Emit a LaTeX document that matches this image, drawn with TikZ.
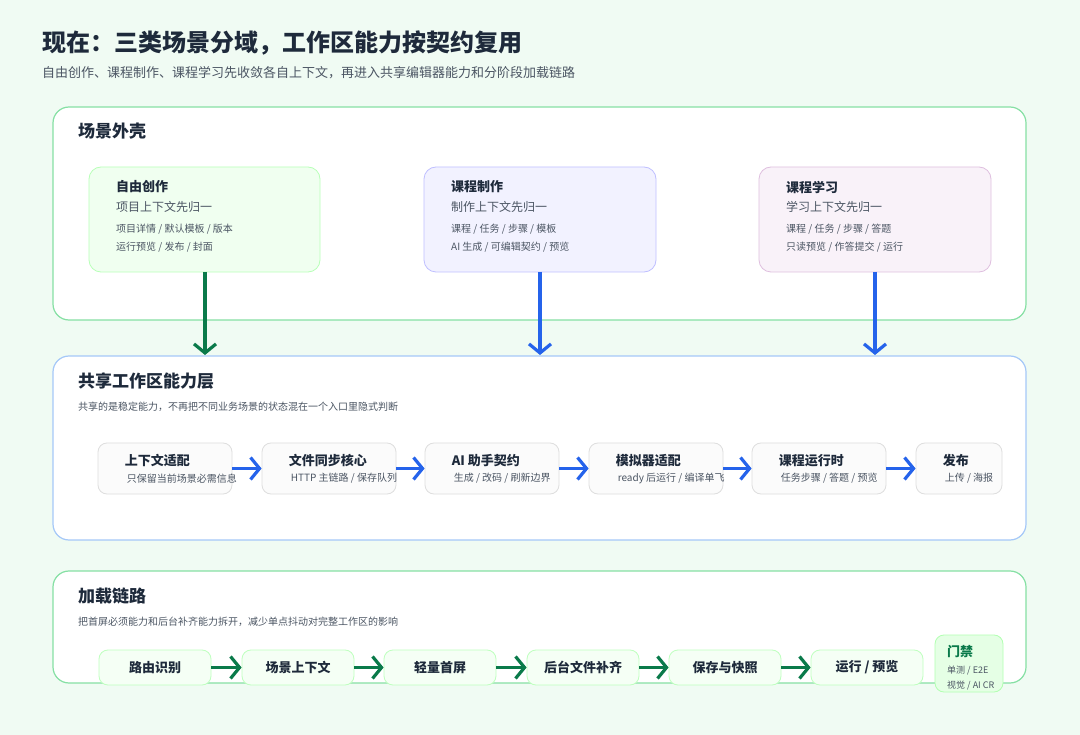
\documentclass[tikz,border=0pt]{standalone}
\usepackage{fontspec}
\setmainfont{Noto Sans CJK SC}
\usetikzlibrary{arrows.meta,positioning}
\definecolor{pagebg}{HTML}{F0FBF3}
\definecolor{ink}{HTML}{1E2A3B}
\definecolor{muted}{HTML}{4B5563}
\definecolor{gline}{HTML}{86E0A4}
\definecolor{bline}{HTML}{A5C8F8}
\definecolor{darkgreen}{HTML}{0A7A4A}
\definecolor{flowblue}{HTML}{2563EB}
\tikzset{
  panel/.style={draw=#1, fill=white, line width=1.2pt, rounded corners=16pt},
  card/.style 2 args={draw=#1, fill=#2, line width=0.8pt, rounded corners=12pt},
  panelhead/.style={anchor=west, font=\bfseries\fontsize{17}{20}\selectfont, text=ink, inner sep=0pt},
  note/.style={anchor=west, font=\fontsize{10}{12}\selectfont, text=muted, inner sep=0pt},
  cardtitle/.style={anchor=west, font=\bfseries\fontsize{13}{15}\selectfont, text=ink, inner sep=0pt},
  capbox/.style={draw=black!13, fill=black!1.5, line width=0.8pt, rounded corners=9pt,
    minimum width=134pt, minimum height=51pt, inner sep=0pt},
  loadbox/.style={draw=green!25, fill=green!4, line width=0.8pt, rounded corners=9pt,
    minimum width=112pt, minimum height=35pt, inner sep=0pt,
    font=\bfseries\fontsize{13}{15}\selectfont, text=ink},
  flow/.style={-{Straight Barb[length=9pt,width=22pt]}, line width=3.2pt, color=#1},
}
\begin{document}
\begin{tikzpicture}[x=1pt,y=-1pt]
\fill[pagebg] (0,0) rectangle (1080,735);
\useasboundingbox (0,0) rectangle (1080,735);

% title
\node[anchor=west, inner sep=0pt, text=ink, font=\bfseries\fontsize{24}{28}\selectfont] (title) at (42,43) {现在：三类场景分域，工作区能力按契约复用};
\node[anchor=west, inner sep=0pt, text=muted, font=\fontsize{13}{15}\selectfont] (subtitle) at (42,73) {自由创作、课程制作、课程学习先收敛各自上下文，再进入共享编辑器能力和分阶段加载链路};

% scene shell
\draw[panel=gline] (53,107) rectangle (1026,320);
\node[panelhead] (shell) at (78,131) {场景外壳};

\draw[card={green!28}{green!6}] (89,167) rectangle (320,272);
\node[cardtitle] (free) at (116,187) {自由创作};
\node[note, font=\fontsize{12}{14}\selectfont] at (116,207) {项目上下文先归一};
\node[note] at (116,229) {项目详情 / 默认模板 / 版本};
\node[note] at (116,247) {运行预览 / 发布 / 封面};
\coordinate (freeout) at (205,272);

\draw[card={blue!25}{blue!5}] (424,167) rectangle (656,272);
\node[cardtitle] (make) at (451,187) {课程制作};
\node[note, font=\fontsize{12}{14}\selectfont] at (451,207) {制作上下文先归一};
\node[note] at (451,229) {课程 / 任务 / 步骤 / 模板};
\node[note] at (451,247) {AI 生成 / 可编辑契约 / 预览};
\coordinate (makeout) at (540,272);

\draw[card={violet!25}{violet!5}] (759,167) rectangle (991,272);
\node[cardtitle] (learn) at (786,187) {课程学习};
\node[note, font=\fontsize{12}{14}\selectfont] at (786,207) {学习上下文先归一};
\node[note] at (786,229) {课程 / 任务 / 步骤 / 答题};
\node[note] at (786,247) {只读预览 / 作答提交 / 运行};
\coordinate (learnout) at (875,272);

% shared layer
\draw[panel=bline] (53,356) rectangle (1026,540);
\node[panelhead] (shared) at (78,381) {共享工作区能力层};
\node[note] at (78,407) {共享的是稳定能力，不再把不同业务场景的状态混在一个入口里隐式判断};

\coordinate (freein) at (205,355);
\coordinate (makein) at (540,355);
\coordinate (learnin) at (875,355);
\draw[flow=darkgreen] (freeout) -- (freein);
\draw[flow=flowblue] (makeout) -- (makein);
\draw[flow=flowblue] (learnout) -- (learnin);

\foreach \n/\x/\w/\t/\s in {c1/165/134/上下文适配/只保留当前场景必需信息,
  c2/329/134/文件同步核心/{HTTP 主链路 / 保存队列},
  c3/492/134/AI 助手契约/{生成 / 改码 / 刷新边界},
  c4/656/134/模拟器适配/{ready 后运行 / 编译单飞},
  c5/819/134/课程运行时/{任务步骤 / 答题 / 预览},
  c6/959/86/发布/{上传 / 海报}}{
  \node[capbox, minimum width=\w pt] (\n) at (\x,468.5) {};
  \node[cardtitle] at ([xshift=27pt,yshift=8pt]\n.west) {\t};
  \node[note] at ([xshift=29pt,yshift=-10pt]\n.west) {\s};
}
\foreach \a/\b in {c1/c2,c2/c3,c3/c4,c4/c5,c5/c6}
  \draw[flow=flowblue] (\a.east) -- (\b.west);

% loading chain
\draw[panel=gline] (53,571) rectangle (1026,683);
\node[panelhead] (load) at (78,596) {加载链路};
\node[note] at (78,622) {把首屏必须能力和后台补齐能力拆开，减少单点抖动对完整工作区的影响};

\foreach \n/\x/\t in {l1/155/路由识别, l2/298/场景上下文, l3/440/轻量首屏,
  l4/583/后台文件补齐, l5/725/保存与快照, l6/867/{运行 / 预览}}
  \node[loadbox] (\n) at (\x,667.5) {\t};
\foreach \a/\b in {l1/l2,l2/l3,l3/l4,l4/l5,l5/l6}
  \draw[flow=darkgreen] (\a.east) -- (\b.west);

\draw[draw=green!30, fill=green!10, line width=0.8pt, rounded corners=9pt] (935,635) rectangle (1003,692);
\node[cardtitle, text=darkgreen] (gate) at (947,652) {门禁};
\node[note, font=\fontsize{9}{11}\selectfont] at (947,671) {单测 / E2E};
\node[note, font=\fontsize{9}{11}\selectfont] at (947,686) {视觉 / AI CR};
\end{tikzpicture}
\end{document}
